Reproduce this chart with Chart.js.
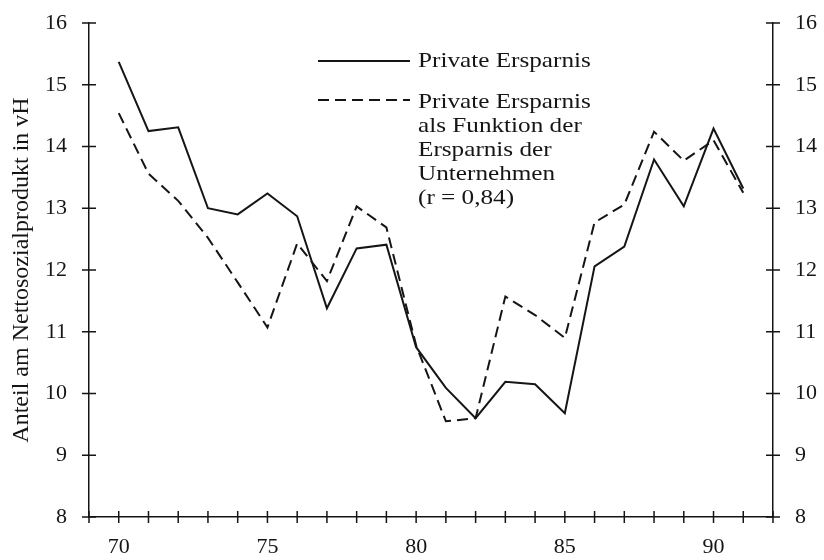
<!DOCTYPE html>
<html>
<head>
<meta charset="utf-8">
<script src="https://cdn.jsdelivr.net/npm/chart.js@4.4.0/dist/chart.umd.min.js"></script>
<style>
  html, body { margin: 0; padding: 0; background: #fff; }
  #wrap { width: 824px; height: 560px; position: relative; }
</style>
</head>
<body>
<div id="wrap"><canvas id="chart" width="824" height="560"></canvas></div>
<script>
const years = [70,71,72,73,74,75,76,77,78,79,80,81,82,83,84,85,86,87,88,89,90,91];
const privateSavings = [15.37,14.25,14.31,13.0,12.9,13.24,12.87,11.38,12.35,12.41,10.75,10.09,9.6,10.19,10.15,9.68,12.06,12.38,13.79,13.03,14.29,13.32];
const fittedSavings = [14.54,13.56,13.12,12.52,11.8,11.07,12.43,11.82,13.03,12.69,10.78,9.55,9.6,11.57,11.27,10.9,12.77,13.06,14.24,13.77,14.1,13.25];
const xLabels = [70,75,80,85,90];
const legendLines = [
  ["Private Ersparnis"],
  ["Private Ersparnis", "als Funktion der", "Ersparnis der", "Unternehmen", "(r = 0,84)"]
];

const FONT = "'Liberation Serif', 'DejaVu Serif', serif";
const INK = "#151515";

// crossing tick marks + legend
const decor = {
  id: "decor",
  afterDraw(chart) {
    const ctx = chart.ctx;
    const { x, y } = chart.scales;
    const area = chart.chartArea;
    ctx.save();
    ctx.strokeStyle = INK;
    ctx.lineWidth = 1.5;
    for (let v = 8; v <= 16; v++) {
      const py = y.getPixelForValue(v);
      ctx.beginPath();
      ctx.moveTo(area.left - 7, py); ctx.lineTo(area.left + 7, py);
      ctx.moveTo(area.right - 7, py); ctx.lineTo(area.right + 7, py);
      ctx.stroke();
    }
    for (let v = 69; v <= 92; v++) {
      const px = x.getPixelForValue(v);
      ctx.beginPath();
      ctx.moveTo(px, area.bottom - 6); ctx.lineTo(px, area.bottom + 6);
      ctx.stroke();
    }

    // legend
    ctx.fillStyle = INK;
    ctx.font = "21px " + FONT;
    ctx.textBaseline = "middle";
    ctx.lineWidth = 1.8;
    const label = (t, ty) => {
      ctx.save();
      ctx.translate(418, ty);
      ctx.scale(1.2, 1);
      ctx.fillText(t, 0, 0);
      ctx.restore();
    };
    ctx.beginPath();
    ctx.moveTo(318, 61); ctx.lineTo(410, 61);
    ctx.stroke();
    label(legendLines[0][0], 61);
    ctx.setLineDash([11, 6]);
    ctx.beginPath();
    ctx.moveTo(318, 100); ctx.lineTo(410, 100);
    ctx.stroke();
    ctx.setLineDash([]);
    legendLines[1].forEach((t, i) => label(t, 102 + i * 24));
    ctx.restore();
  }
};

const fitY = w => s => { s.width = w; s.paddingTop = 0; s.paddingBottom = 0; };

new Chart(document.getElementById("chart"), {
  type: "line",
  data: {
    datasets: [
      {
        label: "Private Ersparnis",
        data: years.map((yr, i) => ({ x: yr, y: privateSavings[i] })),
        borderColor: INK,
        borderWidth: 2,
        pointRadius: 0,
        tension: 0,
        fill: false
      },
      {
        label: "Private Ersparnis als Funktion der Ersparnis der Unternehmen (r = 0,84)",
        data: years.map((yr, i) => ({ x: yr, y: fittedSavings[i] })),
        borderColor: INK,
        borderWidth: 2,
        borderDash: [11, 6],
        pointRadius: 0,
        tension: 0,
        fill: false
      }
    ]
  },
  options: {
    responsive: false,
    animation: false,
    layout: { padding: { top: 23, left: 0, right: 0, bottom: 0 } },
    plugins: { legend: { display: false }, tooltip: { enabled: false } },
    scales: {
      x: {
        type: "linear",
        min: 69, max: 92,
        grid: { display: false },
        border: { display: true, color: INK, width: 1.5 },
        ticks: {
          stepSize: 1,
          autoSkip: false,
          maxRotation: 0,
          color: INK,
          font: { family: FONT, size: 22 },
          padding: 9,
          callback: v => xLabels.includes(v) ? String(v) : ""
        },
        afterFit: s => { s.height = 43; }
      },
      y: {
        position: "left",
        min: 8, max: 16,
        grid: { display: false },
        border: { display: true, color: INK, width: 1.5 },
        ticks: { stepSize: 1, autoSkip: false, color: INK, font: { family: FONT, size: 22 }, padding: 14 },
        title: {
          display: true,
          text: "Anteil am Nettosozialprodukt in vH",
          color: INK,
          font: { family: FONT, size: 24 },
          padding: { top: 7, bottom: 0 }
        },
        afterFit: fitY(89)
      },
      y2: {
        position: "right",
        min: 8, max: 16,
        grid: { display: false },
        border: { display: true, color: INK, width: 1.5 },
        ticks: { stepSize: 1, autoSkip: false, color: INK, font: { family: FONT, size: 22 }, padding: 14 },
        afterFit: fitY(51)
      }
    }
  },
  plugins: [decor]
});
</script>
</body>
</html>
